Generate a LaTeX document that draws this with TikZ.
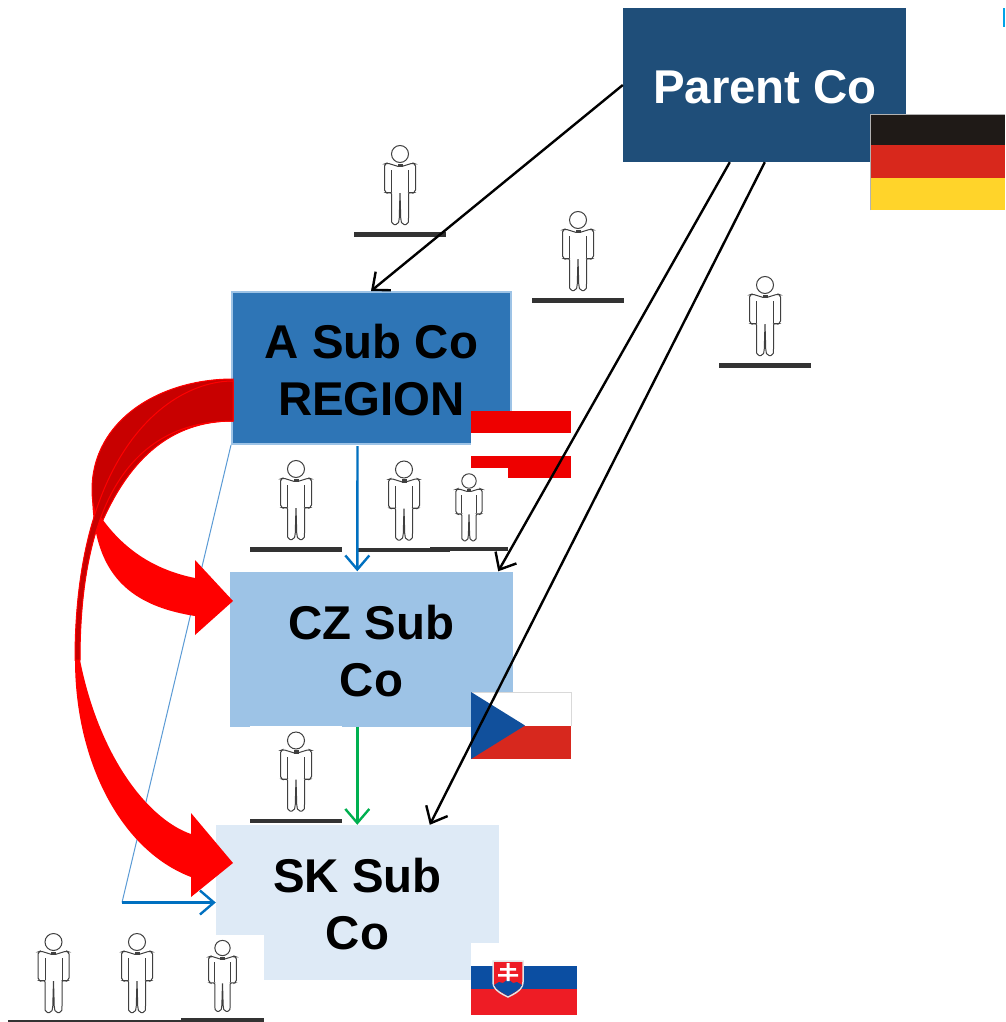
\documentclass[tikz,border=0pt]{standalone}
\usepackage{fontspec}
\setmainfont{Liberation Sans}
\usetikzlibrary{arrows.meta,calc}
\definecolor{parentblue}{HTML}{1F4E79}
\definecolor{subblue}{HTML}{2E75B6}
\definecolor{edgeblue}{HTML}{9DC3E6}
\definecolor{czblue}{HTML}{9DC3E6}
\definecolor{skblue}{HTML}{DEEAF6}
\definecolor{linkblue}{HTML}{0070C0}
\definecolor{linkgreen}{HTML}{00B050}
\definecolor{thinblue}{HTML}{5B9BD5}
\definecolor{darkarrow}{HTML}{C80000}
\definecolor{deblack}{HTML}{1F1A17}
\definecolor{dered}{HTML}{D8281C}
\definecolor{degold}{HTML}{FFD42A}
\definecolor{atred}{HTML}{EE0000}
\definecolor{czred}{HTML}{D7281E}
\definecolor{czbluef}{HTML}{11509C}
\definecolor{skblueflag}{HTML}{0B4EA2}
\definecolor{skred}{HTML}{EE1C25}
\definecolor{sliver}{HTML}{00A2E8}
\newcommand{\topfix}{\rule{0pt}{38pt}}
\tikzset{
  x=1pt,y=-1pt,
  company/.style={inner sep=0pt,align=center,minimum width=283pt,minimum height=155pt,
    font=\bfseries\fontsize{47.4}{57}\selectfont},
  link/.style={line width=2.4pt,-{Straight Barb[length=14pt,width=24pt,line width=2.4pt]}},
  blacklink/.style={link,draw=black},
  redshape/.style={fill=red,draw=none},
  darkshape/.style={fill=darkarrow,draw=red,line width=1pt},
  person/.pic={
    \fill[white] (-46,-15) rectangle (46,78);
    \fill[black!80] (-46,78) rectangle (46,82.5);
    \draw[black!75,line width=1pt,fill=white,rounded corners=2pt]
      (0,13) -- (-13,9) -- (-15.5,10) -- (-15.5,38) -- (-12,39.5) -- (-8.5,38) -- (-8.5,66)
      -- (-8,70.5) -- (-2,70.5) -- (-.8,66) -- (0,38) -- (.8,66) -- (2,70.5) -- (8,70.5)
      -- (8.5,66) -- (8.5,38) -- (12,39.5) -- (15.5,38) -- (15.5,10) -- (13,9) -- cycle;
    \draw[black!75,line width=1pt] (-8.5,38) -- (-8.5,16) (8.5,38) -- (8.5,16);
    \fill[black!75] (-2.5,9.5) rectangle (2.5,13);
    \draw[black!75,line width=1pt,fill=white] (0,0) circle (8.5);
  }
}
\begin{document}
\begin{tikzpicture}
\useasboundingbox (0,0) rectangle (1005,1022);
\clip (0,0) rectangle (1005,1022);
\fill[white] (0,0) rectangle (1005,1022);
% boxes
\node[company,fill=parentblue,text=white,minimum width=283pt,minimum height=154pt,text depth=0pt] (parent) at (764.5,85) {\hspace{1pt}\topfix Parent Co};
\node[company,fill=subblue,draw=edgeblue,line width=2pt,minimum width=279pt,minimum height=152pt] (asub) at (371.5,368) {\topfix A Sub Co\\REGION};
\node[company,fill=czblue] (czsub) at (371.5,649) {\topfix CZ Sub\\Co};
\node[company,fill=skblue] (sksub) at (357.5,902.5) {\topfix SK Sub\\Co};
% top-right sliver
\fill[sliver] (1003,8) rectangle (1005,27);
% flags
\fill[deblack] (870,114) rectangle (1005,145);
\fill[dered] (870,145) rectangle (1005,178);
\fill[degold] (870,178) rectangle (1005,210);
\draw[black!30,line width=.7pt] (870,210) -- (870,114) -- (1005,114);
\fill[atred] (471,411) rectangle (571,433);
\fill[white] (471,433) rectangle (571,456);
\fill[atred] (471,456) rectangle (571,478);
\fill[white] (471,692) rectangle (571,726);
\draw[black!15,line width=.7pt] (471,692) -- (571,692) -- (571,726);
\fill[czred] (471,726) rectangle (571,759);
\fill[czbluef] (471,692) -- (525,725.5) -- (471,759) -- cycle;
\fill[white] (471,943) rectangle (577,966);
\fill[skblueflag] (471,966) rectangle (577,989);
\fill[skred] (471,989) rectangle (577,1015);
\filldraw[draw=white!90!black,line width=1.5pt,fill=skred]
  (493,961) -- (523,961) -- (523,982) .. controls (523,990) and (514,994) .. (508,997)
  .. controls (502,994) and (493,990) .. (493,982) -- cycle;
\fill[skblueflag] (494,985) -- (499,982) -- (503,983) -- (508,979) -- (513,983) -- (517,982) -- (522,985)
  .. controls (520,990) and (513,993) .. (508,996) .. controls (503,993) and (496,990) .. (494,985) -- cycle;
\fill[white] (506.5,963) rectangle (509.5,981) (500,968) rectangle (516,970.5) (498,974) rectangle (518,976.5);
% people
\pic at (400,154) {person};
\pic at (578,220) {person};
\pic at (765,285) {person};
\pic at (296,469) {person};
\pic at (404,469.5) {person};
\pic[scale=.85] at (469,481) {person};
\pic at (296,740.5) {person};
\pic at (53.5,942) {person};
\pic at (137,942) {person};
\pic[scale=.9] at (222.5,948) {person};
% anchors for connectors
\coordinate (psouthA) at ($(parent.south west)+(107,0)$);
\coordinate (psouthB) at ($(parent.south west)+(142,0)$);
\coordinate (aIn) at ($(asub.north west)+(140,0)$);
\coordinate (czIn) at ($(czsub.north east)+(-15,0)$);
\coordinate (skInB) at ($(sksub.north west)+(214,0)$);
\coordinate (aOut) at ($(asub.south west)+(126.5,1)$);
\coordinate (czInB) at ($(czsub.north west)+(127.5,0)$);
\coordinate (czOut) at ($(czsub.south west)+(127.5,0)$);
\coordinate (skIn) at ($(sksub.north west)+(141.5,0)$);
\coordinate (bend) at (122,902.5);
\coordinate (skWest) at (sksub.west);
% connectors
\draw[blacklink] (parent.west) -- (aIn);
\draw[blacklink] (psouthA) -- (czIn);
\draw[blacklink] (psouthB) -- (skInB);
\draw[link,draw=linkblue] (aOut) -- (czInB);
\draw[link,draw=linkgreen] (czOut) -- (skIn);
\draw[thinblue,line width=1pt] (asub.south west) -- (bend);
\draw[link,draw=linkblue] (bend) -- (skWest);
% red arrows
\path[redshape] (233,379) .. controls (160,379) and (92,420) .. (92,490)
  .. controls (92,570) and (125,605) .. (195,616)
  -- (195,635) -- (233,601) -- (195,560) -- (195,578)
  .. controls (155,570) and (125,550) .. (103,520)
  .. controls (130,460) and (170,421) .. (233,421) -- cycle;
\path[darkshape] (233,379) .. controls (160,379) and (92,420) .. (92,490)
  .. controls (92,498) and (93,505) .. (95,512) -- (103,520)
  .. controls (130,460) and (170,421) .. (233,421) -- cycle;
\path[redshape] (233,381) .. controls (170,381) and (75,450) .. (75,660)
  .. controls (75,760) and (120,850) .. (191,877)
  -- (191,897) -- (233,863) -- (191,813) -- (191,834)
  .. controls (150,820) and (100,760) .. (80,660)
  .. controls (80,540) and (110,421) .. (233,421) -- cycle;
\path[darkshape] (233,381) .. controls (170,381) and (75,450) .. (75,660)
  -- (80,660) .. controls (80,540) and (110,421) .. (233,421) -- cycle;
\end{tikzpicture}
\end{document}
